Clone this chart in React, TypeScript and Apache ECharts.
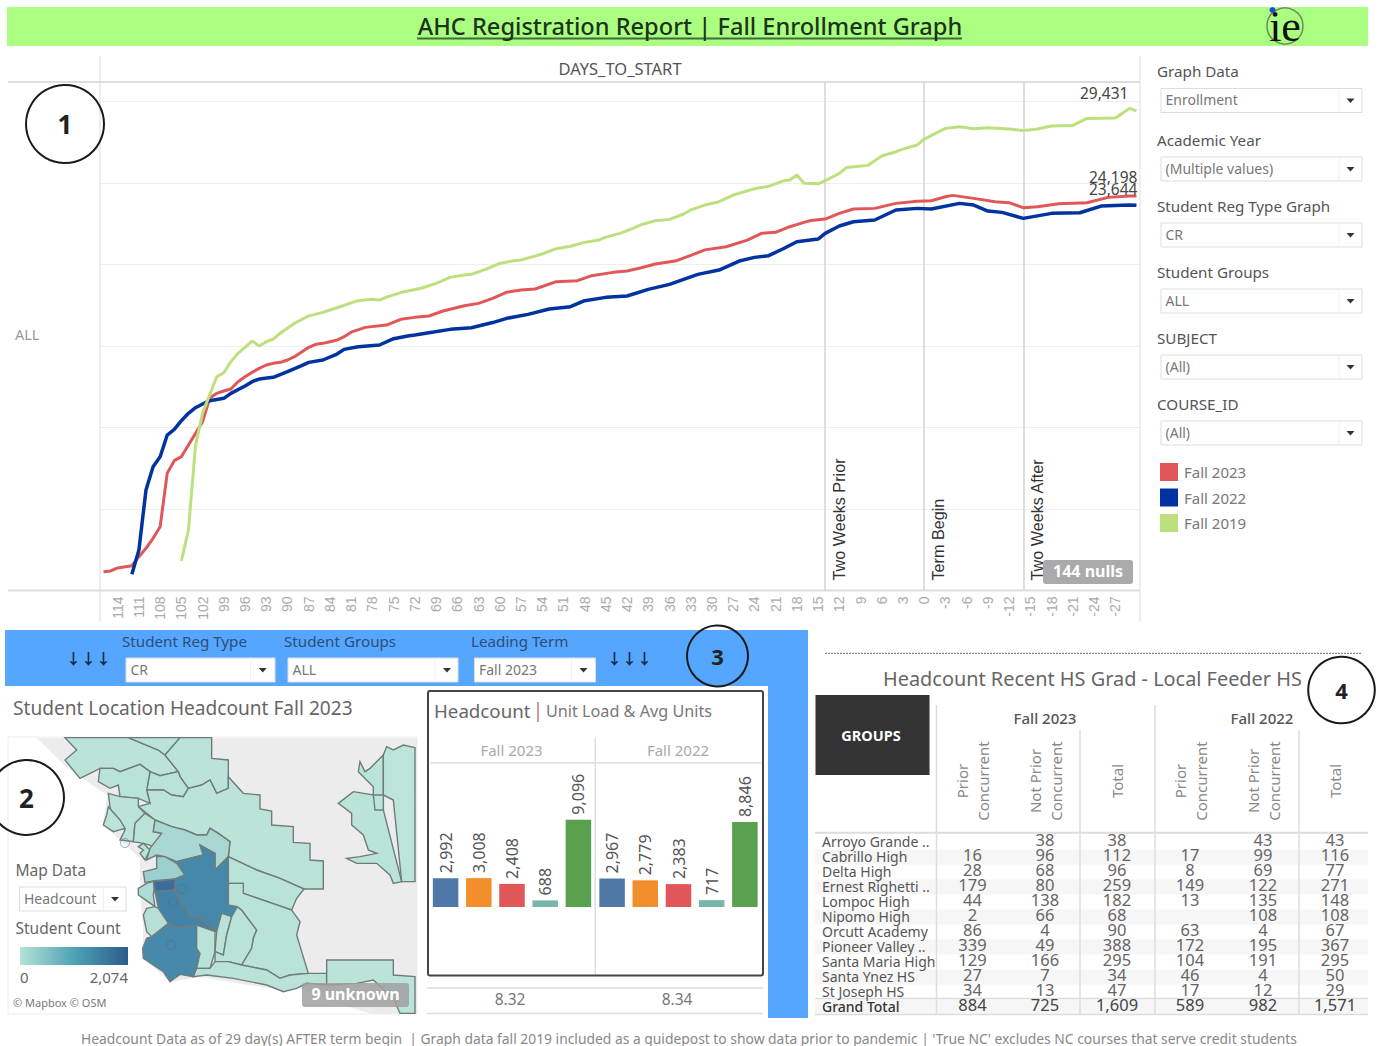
import React, { useEffect, useRef } from "react";
import * as echarts from "echarts";

const FONT = "'Noto Sans', sans-serif";
const AXIS_FONT = "'Liberation Sans', Arial, sans-serif";

// ---------- Line chart data (DAYS_TO_START) ----------
const dayAxis: number[] = [];
for (let d = 116; d >= -30; d--) dayAxis.push(d);

const fall2023Days = [116,115,114,112,111,110,109,108,107,106,105,104,103,102,101,100,99,98,97,96,95,94,93,92,91,90,89,88,87,86,85,84,83,82,81,79,76,74,72,70,68,65,63,61,59,57,55,52,49,47,44,42,40,38,35,33,31,28,25,23,21,19,17,16,14,12,10,7,4,1,-1,-3,-4,-7,-10,-12,-14,-16,-19,-23,-26,-29,-30];
const fall2023Values = [1156,1197,1381,1524,2076,2587,3201,3916,7188,7966,8211,8927,9642,10358,11790,12097,12240,12362,12812,13119,13385,13630,13835,13937,13998,14142,14346,14632,14919,15103,15164,15266,15368,15573,15850,16145,16289,16637,16759,16841,17148,17475,17618,17925,18300,18440,18497,18947,19009,19315,19520,19602,19806,20031,20236,20560,20900,21094,21500,21913,21974,22321,22587,22700,22792,23140,23405,23446,23753,23876,23917,24162,24244,24060,23855,23794,23487,23548,23732,23794,24121,24203,24198];

const fall2022Days = [112,111,110,109,108,107,106,105,104,103,102,101,99,98,96,95,94,92,90,88,87,85,83,82,80,77,75,73,72,70,67,64,61,59,56,53,50,48,45,42,39,36,32,29,26,24,22,20,18,15,14,12,10,7,4,1,-1,-5,-7,-9,-11,-14,-18,-22,-25,-29,-30];
const fall2022Values = [992,2485,6166,7597,8211,9540,9888,10420,10870,11217,11442,11647,11790,12097,12547,12812,12976,13078,13426,13794,13998,14142,14510,14796,14960,15062,15450,15620,15680,15818,16023,16125,16440,16700,16943,17270,17413,17782,17986,18068,18477,18784,19397,19663,20236,20440,20542,20951,21401,21565,21912,22362,22628,22731,23344,23446,23405,23753,23651,23283,23201,22833,23140,23180,23589,23651,23644];

const fall2019Days = [105,104,103,102,101,100,99,98,97,95,94,93,92,91,89,87,85,83,81,80,78,77,76,74,71,69,67,65,64,62,60,58,57,54,52,50,48,46,45,43,41,40,38,36,34,33,31,29,27,24,22,20,19,18,17,15,14,12,11,8,6,4,3,1,0,-3,-5,-7,-9,-12,-14,-16,-18,-21,-23,-27,-28,-29,-30];
const fall2019Values = [1810,3700,8900,10900,12000,13119,13364,14039,14550,15307,15000,15266,15430,15800,16400,16850,17066,17350,17650,17782,17863,17822,18000,18280,18560,18845,19213,19356,19397,19700,20072,20236,20277,20645,20972,21120,21360,21504,21680,21912,22250,22450,22690,22771,23100,23350,23650,23855,24264,24653,24800,25120,25185,25491,24990,24950,25143,25594,25950,26084,26657,26923,27080,27332,27700,28354,28457,28334,28395,28313,28231,28313,28497,28538,28968,28988,29275,29581,29431];

const refDays = [14, 0, -14];
const refNames = ["Two Weeks Prior", "Term Begin", "Two Weeks After"];

// ---------- Bars ----------
const unitBands = [">0 - <6", "6 - <12", "12 - <15", "15+", "Total"];
const headcount2023 = [2992, 3008, 2408, 688, 9096];
const headcount2022 = [2967, 2779, 2383, 717, 8846];
const bandColors = ["#4e79a7", "#f28e2b", "#e15759", "#76b7a8", "#59a14f"];
const avgUnitsLabels = ["8.32", "8.34"];

// ---------- Table ----------
const schools = ["Arroyo Grande ..","Cabrillo High","Delta High","Ernest Righetti ..","Lompoc High","Nipomo High","Orcutt Academy","Pioneer Valley ..","Santa Maria High","Santa Ynez HS","St Joseph HS","Grand Total"];
const prior2023 = ["", "16","28","179","44","2","86","339","129","27","34","884"];
const notPrior2023 = ["38","96","68","80","138","66","4","49","166","7","13","725"];
const total2023 = ["38","112","96","259","182","68","90","388","295","34","47","1,609"];
const prior2022 = ["", "17","8","149","13","","63","172","104","46","17","589"];
const notPrior2022 = ["43","99","69","122","135","108","4","195","191","4","12","982"];
const total2022 = ["43","116","77","271","148","108","67","367","295","50","29","1,571"];

// ---------- Map regions ----------
const regionShapes: Record<string, number[][]> = {
  r1: [[-105,8],[85,8],[175,45],[195,60],[235,110],[180,122],[150,110],[120,88],[60,110],[40,100],[0,100],[-60,130],[-105,75],[-70,45]],
  r2a: [[85,8],[240,8],[195,60],[175,45]],
  r2b: [[240,8],[335,8],[335,70],[385,75],[385,125],[385,160],[350,175],[330,135],[305,150],[265,160],[240,125],[235,110],[195,60]],
  r3: [[150,110],[180,122],[235,110],[240,125],[265,160],[250,185],[215,180],[190,165],[140,165]],
  r4: [[385,125],[430,175],[480,180],[480,222],[515,228],[515,270],[580,275],[580,322],[630,325],[630,375],[670,378],[670,462],[612,462],[540,430],[470,405],[385,365],[390,320],[355,295],[330,280],[320,300],[290,300],[255,285],[215,275],[165,255],[115,215],[150,205],[140,165],[190,165],[215,180],[250,185],[265,160],[305,150],[330,135],[350,175],[385,160]],
  r5: [[0,100],[40,100],[60,110],[120,88],[150,110],[140,165],[150,205],[115,190],[60,185],[55,150],[30,160],[-5,140]],
  r6: [[25,175],[60,185],[115,190],[115,215],[135,235],[105,265],[100,320],[60,315],[75,285],[55,270],[35,235],[30,215]],
  r7: [[25,215],[60,255],[75,280],[40,290],[10,270],[20,240]],
  r8: [[135,235],[165,255],[160,290],[185,295],[165,335],[130,325],[100,320],[105,265]],
  r9: [[115,335],[130,325],[150,345],[135,375],[120,355],[130,345]],
  l1: [[165,255],[215,275],[255,285],[290,300],[320,300],[330,280],[355,295],[390,320],[385,365],[345,405],[345,355],[300,330],[310,360],[250,375],[230,380],[195,365],[170,360],[140,375],[150,340],[185,295],[160,290]],
  l2: [[170,365],[195,365],[230,385],[255,420],[225,432],[165,437],[135,442],[130,410],[170,400]],
  l3: [[115,460],[140,445],[165,437],[160,480],[165,515],[130,490],[115,480]],
  d1: [[300,330],[345,355],[345,405],[385,365],[385,510],[412,515],[395,545],[350,590],[300,550],[270,545],[255,520],[235,490],[225,465],[225,432],[255,420],[230,380],[250,375],[310,360]],
  d2: [[160,440],[225,432],[225,465],[165,470]],
  d3: [[165,470],[225,465],[235,490],[255,520],[270,545],[300,550],[350,590],[290,570],[240,578],[205,565],[175,520]],
  d4: [[155,605],[205,565],[240,578],[290,570],[290,640],[300,655],[290,700],[280,725],[240,718],[210,740],[190,710],[130,670],[128,640],[140,610]],
  r10: [[140,520],[165,515],[175,520],[205,565],[155,605],[140,590],[130,540]],
  r11: [[290,570],[345,590],[345,650],[330,700],[290,700],[300,655],[290,640]],
  r12: [[350,590],[365,535],[395,545],[380,600],[370,660],[345,650]],
  r13: [[380,600],[395,545],[412,515],[425,525],[470,585],[460,610],[455,640],[425,690],[385,680],[345,680],[345,650],[370,660]],
  r15: [[385,365],[470,405],[540,430],[612,462],[590,490],[575,525],[430,475],[430,445],[385,445]],
  r16: [[385,445],[430,445],[430,475],[575,525],[600,560],[590,600],[605,650],[625,715],[570,720],[540,730],[500,705],[425,690],[455,640],[460,610],[470,585],[425,525],[412,515],[385,510]],
  r17: [[280,725],[290,700],[330,700],[345,680],[385,680],[425,690],[500,705],[540,730],[570,720],[625,715],[680,715],[680,750],[620,745],[590,760],[550,770],[500,750],[400,730],[320,720]],
  r18: [[680,675],[880,675],[880,720],[945,725],[945,835],[900,835],[880,790],[820,735],[770,745],[680,750]],
  r19a: [[850,60],[810,100],[795,110],[780,80],[775,110],[820,155],[820,180],[760,170],[715,205],[755,235],[755,270],[790,300],[805,345],[830,355],[780,365],[740,370],[770,385],[830,385],[870,420],[880,445],[905,440],[850,225]],
  r19b: [[945,38],[910,30],[880,45],[860,35],[850,60],[850,180],[880,195],[905,440],[945,440]],
  r19c: [[820,180],[850,180],[850,225],[825,225]],
};
const regionValues: Record<string, number> = {
  r1: 12, r2a: 10, r2b: 8, r3: 20, r4: 14, r5: 16, r6: 14, r7: 10, r8: 18, r9: 30,
  l1: 180, l2: 300, l3: 130, d1: 1510, d2: 2074, d3: 1620, d4: 1480,
  r10: 60, r11: 20, r12: 15, r13: 24, r15: 18, r16: 20, r17: 26, r18: 8, r19a: 6, r19b: 4, r19c: 3,
};

// ---------- Graphic helpers ----------
type El = Record<string, unknown>;
const text = (x: number, y: number, s: string, size: number, fill: string, o: Record<string, unknown> = {}): El => ({
  type: "text", x, y: y - 1, z: 20, silent: true, rotation: o.rotation ?? 0,
  style: {
    text: s, fill, fontSize: size, fontFamily: o.family ?? FONT, fontWeight: o.weight ?? "normal",
    textAlign: o.align ?? "left", textVerticalAlign: "middle", lineHeight: o.lineHeight,
  },
});
const rect = (x: number, y: number, w: number, h: number, fill: string, o: Record<string, unknown> = {}): El => ({
  type: "rect", z: o.z ?? 1, silent: true, shape: { x, y, width: w, height: h, r: o.r ?? 0 },
  style: { fill, stroke: o.stroke, lineWidth: o.lineWidth ?? 1 },
});
const line = (x1: number, y1: number, x2: number, y2: number, stroke: string, lineWidth = 1, o: Record<string, unknown> = {}): El => ({
  type: "line", z: o.z ?? 1, silent: true, shape: { x1, y1, x2, y2 }, style: { stroke, lineWidth, lineDash: o.dash },
});
const circle = (cx: number, cy: number, r: number, label: string, size: number): El[] => [
  { type: "circle", z: 30, silent: true, shape: { cx, cy, r }, style: { fill: "transparent", stroke: "#1a1a1a", lineWidth: 2 } },
  { type: "text", x: cx, y: cy, z: 31, silent: true, style: { text: label, fill: "#222", fontSize: size, fontWeight: "bold", fontFamily: "'Open Sans', sans-serif", textAlign: "center", textVerticalAlign: "middle" } },
];
const dropdown = (x: number, y: number, w: number, h: number, dividerX: number, triX: number, label: string, size = 14, stroke = "#ddd"): El[] => [
  rect(x, y, w, h, "#fff", { stroke, z: 5 }),
  line(dividerX, y + 1, dividerX, y + h - 1, "#eee", 1, { z: 6 }),
  { type: "polygon", z: 6, silent: true, shape: { points: [[triX - 4, y + h / 2 - 2], [triX + 4, y + h / 2 - 2], [triX, y + h / 2 + 2.5]] }, style: { fill: "#333" } },
  text(x + 4.5, y + h / 2, label, size, "#777"),
];
const ring = (cx: number, cy: number): El => ({
  type: "circle", z: 8, silent: true, shape: { cx, cy, r: 4.5 }, style: { fill: "transparent", stroke: "rgba(80,110,130,0.55)", lineWidth: 1 },
});

function buildGraphics(): El[] {
  const g: El[] = [];
  // title band
  g.push(rect(7, 7, 1361, 39, "#aaff80"));
  g.push(text(690, 27, "AHC Registration Report | Fall Enrollment Graph", 23.6, "#1c331c", { align: "center", weight: 500 }));
  g.push(line(417, 38.5, 962, 38.5, "#3f6b3f", 2, { z: 5 }));
  // logo
  g.push({ type: "circle", z: 6, silent: true, shape: { cx: 1285, cy: 26, r: 18 }, style: { fill: "transparent", stroke: "#6d8a62", lineWidth: 1.5 } });
  g.push(text(1285, 27, "ie", 44, "#111", { align: "center", family: "'Liberation Serif', serif" }));
  g.push({ type: "circle", z: 25, silent: true, shape: { cx: 1272.5, cy: 10, r: 3 }, style: { fill: "#1a4be0" } });

  // line-chart frame
  g.push(line(8, 82, 1140, 82, "#ddd", 2));
  g.push(line(100, 56, 100, 622, "#ddd", 1));
  g.push(line(1140, 56, 1140, 622, "#ddd", 1));
  g.push(line(8, 590.5, 1140, 590.5, "#ddd", 2));
  g.push(text(620, 69.5, "DAYS_TO_START", 16.5, "#555", { align: "center" }));
  g.push(text(15, 335, "ALL", 14.5, "#999"));
  g.push(rect(1043, 560, 90, 24, "#aaa", { r: 3, z: 19 }));
  g.push(text(1088, 572, "144 nulls", 16, "#fff", { align: "center", weight: "bold" }));

  // side filters
  const side: [string, number, number, string][] = [
    ["Graph Data", 72, 88.5, "Enrollment"],
    ["Academic Year", 141, 157, "(Multiple values)"],
    ["Student Reg Type Graph", 207, 223, "CR"],
    ["Student Groups", 273, 289, "ALL"],
    ["SUBJECT", 339, 355, "(All)"],
    ["COURSE_ID", 405, 421, "(All)"],
  ];
  side.forEach(([label, ly, by, val]) => {
    g.push(text(1157, ly, label, 15.2, "#555"));
    g.push(...dropdown(1161, by, 201, 24, 1339, 1350.5, val, 14));
  });

  // blue strip
  g.push(rect(5, 630, 803, 388, "#55a6ff"));
  g.push(rect(5, 686, 763, 332, "#fff", { z: 2 }));
  g.push(text(122, 642, "Student Reg Type", 15.2, "#2f4d75"));
  g.push(text(284, 642, "Student Groups", 15.2, "#2f4d75"));
  g.push(text(471, 642, "Leading Term", 15.2, "#2f4d75"));
  g.push(...dropdown(126, 658, 149, 24, 250.7, 262.7, "CR", 14));
  g.push(...dropdown(288, 658, 170, 24, 435, 447, "ALL", 14));
  g.push(...dropdown(474.5, 658, 121, 24, 571.7, 583.5, "Fall 2023", 14));
  g.push(text(88.5, 658, "↓↓↓", 15, "#1a2a44", { align: "center", family: "'Noto Sans CJK SC', sans-serif", weight: 700 }));
  g.push(text(629.5, 658, "↓↓↓", 15, "#1a2a44", { align: "center", family: "'Noto Sans CJK SC', sans-serif", weight: 700 }));

  // map panel
  g.push(text(13, 709, "Student Location Headcount Fall 2023", 19.1, "#666"));
  g.push(rect(8, 737, 409, 277, "#fff", { z: 3, stroke: "#eee" }));
  g.push({
    type: "polygon", z: 3, silent: true,
    shape: { points: [[37,738],[417,738],[417,1014],[372,1014],[333,1002],[293,985],[267,988],[200,977],[170,982],[143,958],[143,925],[140,892],[140,858],[103,825],[107,795],[67,768]] },
    style: { fill: "#ececec" },
  });
  g.push(ring(182, 889), ring(173, 902), ring(171, 945), ring(125, 843));
  g.push(text(15.5, 871, "Map Data", 15.5, "#666"));
  g.push(...dropdown(19.5, 887, 106.5, 24, 103.3, 115, "Headcount", 14));
  g.push(text(15.5, 929, "Student Count", 15.5, "#666"));
  g.push({
    type: "rect", z: 6, silent: true, shape: { x: 20, y: 947, width: 108, height: 18 },
    style: {
      fill: new echarts.graphic.LinearGradient(0, 0, 1, 0, [
        { offset: 0, color: "#b5e2d5" }, { offset: 0.5, color: "#4ea2b6" }, { offset: 1, color: "#2c5c8a" },
      ]),
    },
  });
  g.push(text(20, 978, "0", 15, "#666"));
  g.push(text(128, 978, "2,074", 15, "#666", { align: "right" }));
  g.push(text(13, 1003, "© Mapbox © OSM", 11, "#777"));
  g.push(rect(302, 983, 107, 24, "rgba(160,160,160,0.85)", { r: 3, z: 19 }));
  g.push(text(355.5, 995, "9 unknown", 16, "#fff", { align: "center", weight: "bold" }));

  // bar panel frame
  g.push(rect(428, 691, 335, 284.5, "transparent", { stroke: "#444", lineWidth: 2, z: 10, r: 2 }));
  g.push(text(434, 711, "Headcount", 18.7, "#666"));
  g.push(text(538, 711, "|", 19, "#b57a7a", { align: "center" }));
  g.push(text(546, 712, "Unit Load & Avg Units", 16.2, "#777"));
  g.push(text(511.5, 751, "Fall 2023", 15, "#aaa", { align: "center" }));
  g.push(text(678, 751, "Fall 2022", 15, "#aaa", { align: "center" }));
  g.push(line(430, 762.7, 761, 762.7, "#ddd", 1.5, { z: 4 }));
  g.push(line(595.3, 738, 595.3, 975, "#ddd", 1.5, { z: 4 }));
  g.push(line(427, 988, 763, 988, "#ddd", 1.5, { z: 4 }));
  g.push(line(427, 1013.5, 763, 1013.5, "#ddd", 1.5, { z: 4 }));
  g.push(text(510, 1000, avgUnitsLabels[0], 15.5, "#777", { align: "center" }));
  g.push(text(677, 1000, avgUnitsLabels[1], 15.5, "#777", { align: "center" }));

  // table
  g.push(line(825, 653.3, 1361, 653.3, "#666", 1, { dash: [2, 1] }));
  g.push(text(883, 679, "Headcount Recent HS Grad - Local Feeder HS", 19.9, "#666"));
  g.push(rect(815.5, 695, 114, 80, "#333", { z: 4 }));
  g.push(text(871, 736, "GROUPS", 14.5, "#fff", { align: "center", weight: "bold" }));
  g.push(text(1045, 719, "Fall 2023", 15, "#555", { align: "center", weight: 500 }));
  g.push(text(1262, 719, "Fall 2022", 15, "#555", { align: "center", weight: 500 }));
  const colHeads = ["Prior\nConcurrent", "Not Prior\nConcurrent", "Total", "Prior\nConcurrent", "Not Prior\nConcurrent", "Total"];
  const colX = [972.5, 1045, 1117, 1190, 1263, 1335];
  const columns = [prior2023, notPrior2023, total2023, prior2022, notPrior2022, total2022];
  colHeads.forEach((h, i) =>
    g.push(text(colX[i], 782, h, 15, "#888", { align: "center", rotation: Math.PI / 2, lineHeight: 21 })),
  );
  schools.forEach((_, r) => {
    if (r % 2 === 1) g.push(rect(815, 834.5 + 15 * r, 553, 15, "#f6f6f6", { z: 2 }));
  });
  [936.5, 1155].forEach((x) => g.push(line(x, 705, x, 1015, "#ddd", 1.5, { z: 4 })));
  [1080, 1299].forEach((x) => g.push(line(x, 730, x, 1015, "#ddd", 1.5, { z: 4 })));
  g.push(line(815, 832.7, 1368, 832.7, "#ddd", 2, { z: 4 }));
  g.push(line(815, 998.5, 1368, 998.5, "#ddd", 1.5, { z: 4 }));
  g.push(line(815, 1014.5, 1368, 1014.5, "#ddd", 1.5, { z: 4 }));
  schools.forEach((name, r) => {
    g.push(text(822, 842 + 15 * r, name, 14, r === 11 ? "#333" : "#555", { weight: r === 11 ? 500 : "normal" }));
    columns.forEach((col, c) => {
      if (col[r]) g.push(text(colX[c], 840 + 15 * r, col[r], 16.5, r === 11 ? "#444" : "#666", { align: "center" }));
    });
  });

  // footer
  g.push(text(81, 1039, "Headcount Data as of 29 day(s) AFTER term begin  | Graph data fall 2019 included as a guidepost to show data prior to pandemic | 'True NC' excludes NC courses that serve credit students", 13.85, "#888"));

  // annotations
  g.push(...circle(65, 124, 39, "1", 26));
  g.push(...circle(26.5, 797.5, 37.5, "2", 26));
  g.push(...circle(717.5, 656, 30.5, "3", 22));
  g.push(...circle(1341.5, 690, 33.3, "4", 22));
  return g;
}

const toLine = (days: number[], values: number[]) => days.map((d, i) => [116 - d, values[i]]);
const fmt = (v: number) => v.toLocaleString("en-US");

function barSeries(values: number[], idx: number) {
  return {
    type: "bar", xAxisIndex: idx, yAxisIndex: idx, barWidth: 25.5, silent: true,
    data: values.map((value, i) => ({ value, itemStyle: { color: bandColors[i] } })),
    label: {
      show: true, position: "top", rotate: 90, align: "left", verticalAlign: "middle", distance: 5,
      formatter: (p: { value: number }) => fmt(p.value),
      fontSize: 16, color: "#555", fontFamily: FONT,
    },
  };
}
const endLabel = (value: string, dx: number, dy: number) => ({
  show: true, formatter: () => value, color: "#444", fontSize: 15.5, fontFamily: FONT,
  align: "right", offset: [dx, dy],
});

export default function App() {
  const ref = useRef<HTMLDivElement>(null);
  useEffect(() => {
    if (!ref.current) return;
    const features = Object.entries(regionShapes).map(([name, pts]) => ({
      type: "Feature", properties: { name },
      geometry: { type: "Polygon", coordinates: [[...pts, pts[0]].map(([x, y]) => [x, -y])] },
    }));
    echarts.registerMap("feeder", { type: "FeatureCollection", features } as never);
    const all = Object.values(regionShapes).flat();
    const xs = all.map((p) => p[0]);
    const ys = all.map((p) => p[1]);
    const minX = Math.min(...xs), maxX = Math.max(...xs), minY = Math.min(...ys), maxY = Math.max(...ys);

    const chart = echarts.init(ref.current, undefined, { renderer: "svg", width: 1378, height: 1046 });
    const lineColors = { a: "#e15759", b: "#0033a0", c: "#bde07f" };
    const common = { type: "line", showSymbol: false, symbol: "none", silent: true, xAxisIndex: 0, yAxisIndex: 0, z: 5 };
    chart.setOption({
      animation: false,
      backgroundColor: "#fff",
      textStyle: { fontFamily: FONT },
      legend: {
        data: ["Fall 2023", "Fall 2022", "Fall 2019"], orient: "vertical", left: 1160, top: 463, padding: 0,
        icon: "rect", itemWidth: 18, itemHeight: 18, itemGap: 7.5, selectedMode: false,
        textStyle: { color: "#777", fontSize: 15, fontFamily: FONT, padding: [0, 0, 0, 1] },
      },
      grid: [
        { left: 100, top: 82, width: 1040, height: 508.5 },
        { left: 429, top: 763, width: 166, height: 144 },
        { left: 595.5, top: 763, width: 166, height: 144 },
      ],
      xAxis: [
        {
          type: "category", gridIndex: 0, data: dayAxis.map(String), boundaryGap: true,
          axisTick: { show: false }, axisLine: { show: false }, splitLine: { show: false },
          axisLabel: {
            rotate: 90, margin: 6, fontSize: 14, color: "#aaa", fontFamily: AXIS_FONT,
            interval: (index: number) => dayAxis[index] % 3 === 0 && dayAxis[index] >= -27,
          },
        },
        ...[1, 2].map((gridIndex) => ({
          type: "category", gridIndex, data: unitBands,
          axisTick: { show: false }, axisLine: { lineStyle: { color: "#ccc" } },
          axisLabel: { rotate: 90, margin: 6, fontSize: 15, color: "#aaa", fontFamily: AXIS_FONT, interval: 0 },
        })),
      ],
      yAxis: [
        {
          type: "value", gridIndex: 0, min: 0, max: 31200, interval: 5000,
          axisLabel: { show: false }, axisLine: { show: false }, axisTick: { show: false },
          splitLine: { lineStyle: { color: "#eee" } },
        },
        ...[1, 2].map((gridIndex) => ({
          type: "value", gridIndex, min: 0, max: 15000, interval: 5000,
          axisLabel: { show: false }, axisLine: { show: false }, axisTick: { show: false },
          splitLine: { lineStyle: { color: "#f3f3f3" } },
        })),
      ],
      visualMap: {
        show: false, seriesIndex: 5, min: 0, max: 2074,
        inRange: { color: ["#bce4d9", "#4f9fb5", "#3a6c9c"] },
      },
      graphic: { elements: buildGraphics() },
      series: [
        {
          ...common, name: "Fall 2023", data: toLine(fall2023Days, fall2023Values),
          lineStyle: { color: lineColors.a, width: 3 }, itemStyle: { color: lineColors.a },
          endLabel: endLabel("24,198", -7, -19),
        },
        {
          ...common, name: "Fall 2022", data: toLine(fall2022Days, fall2022Values),
          lineStyle: { color: lineColors.b, width: 3.5 }, itemStyle: { color: lineColors.b },
          endLabel: endLabel("23,644", -7, -16),
        },
        {
          ...common, name: "Fall 2019", data: toLine(fall2019Days, fall2019Values),
          lineStyle: { color: lineColors.c, width: 3 }, itemStyle: { color: lineColors.c },
          endLabel: endLabel("29,431", -16, -18),
          markLine: {
            silent: true, symbol: "none", animation: false, z: 3,
            lineStyle: { color: "#d6d2d2", width: 1.5, type: "solid" },
            label: { show: true, position: "insideStartBottom", formatter: "{b}", color: "#333", fontSize: 16.2, fontFamily: AXIS_FONT, distance: [10, 6] },
            data: refDays.map((d, i) => ({ xAxis: 116 - d, name: refNames[i] })),
          },
        },
        barSeries(headcount2023, 1),
        barSeries(headcount2022, 2),
        {
          type: "map", map: "feeder", aspectScale: 1, roam: false, silent: true, z: 4, showLegendSymbol: false,
          left: 100 + minX / 3, top: 735 + minY / 3, width: (maxX - minX) / 3, height: (maxY - minY) / 3,
          label: { show: false }, emphasis: { disabled: true }, select: { disabled: true },
          itemStyle: { borderColor: "#6f7c7c", borderWidth: 1.4 },
          data: Object.keys(regionValues).map((name) => ({ name, value: regionValues[name] })),
        },
      ],
    });
    return () => chart.dispose();
  }, []);
  return <div ref={ref} style={{ position: "absolute", left: 0, top: 0, width: 1378, height: 1046 }} />;
}
